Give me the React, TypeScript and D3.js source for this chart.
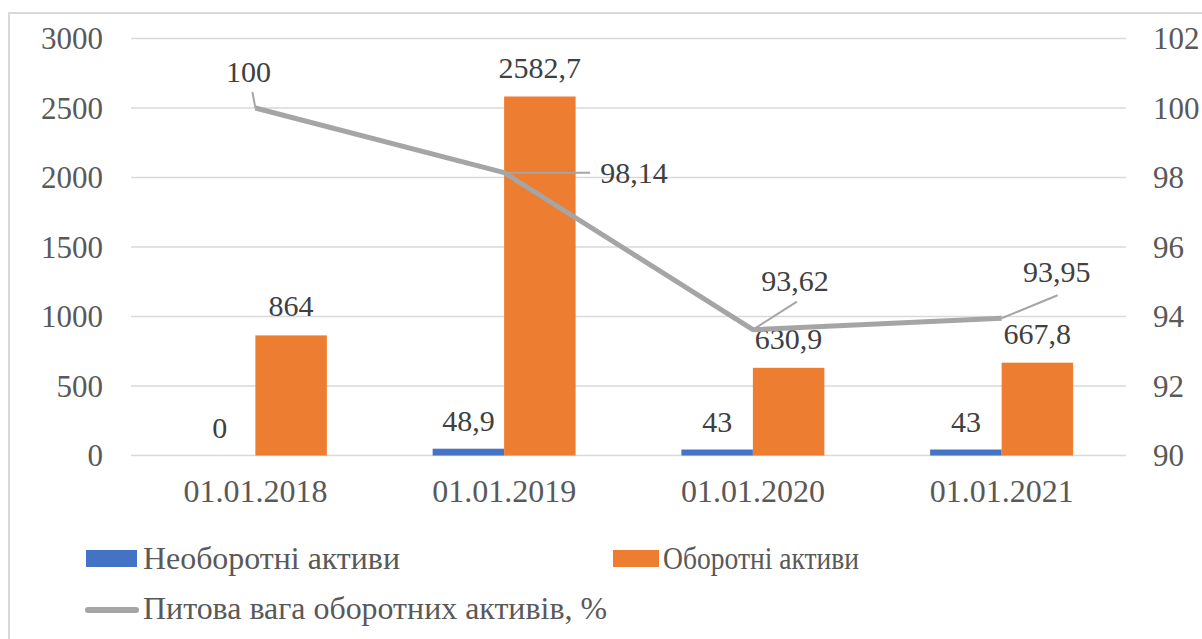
import React from "react";
import * as d3 from "d3";

const categories = ["01.01.2018", "01.01.2019", "01.01.2020", "01.01.2021"];
const nonCurrent = [0, 48.9, 43, 43];
const current = [864, 2582.7, 630.9, 667.8];
const share = [100, 98.14, 93.62, 93.95];
const leftTicks = [0, 500, 1000, 1500, 2000, 2500, 3000];
const rightTicks = [90, 92, 94, 96, 98, 100, 102];
const seriesNames = ["Необоротні активи", "Оборотні активи", "Питова вага оборотних активів, %"];

const fmt = (v: number) => String(v).replace(".", ",");

const W = 1202, H = 639;
const plotL = 131, plotR = 1126, plotT = 38.5, plotB = 455.5;
const FS = { fontFamily: '"Liberation Serif"' };
const TXT = "#595959";
const LBL = "#404040";
const BLUE = "#4472C4", ORANGE = "#ED7D31", GRAY = "#A5A5A5";

// label offsets for line data labels (leader lines)
const lineLabelPos = [
  { dx: -7, dy: -36, lx: -3, ly: -16 },
  { dx: 96, dy: 0, lx: 86, ly: 0 },
  { dx: 42, dy: -49, lx: 44, ly: -28 },
  { dx: 55, dy: -46, lx: 56, ly: -23 },
];

export default function App() {
  const x = d3.scaleBand<string>().domain(categories).range([plotL, plotR]);
  const yL = d3.scaleLinear().domain([0, 3000]).range([plotB, plotT]);
  const yR = d3.scaleLinear().domain([90, 102]).range([plotB, plotT]);
  const band = x.bandwidth();
  const barW = band / 3.48;
  const cx = (c: string) => (x(c) as number) + band / 2;
  const line = d3
    .line<number>()
    .x((_, i) => cx(categories[i]))
    .y((d) => yR(d));

  return (
    <svg width={W} height={H} style={{ position: "absolute", left: 0, top: 0, background: "#fff" }}>
      <rect x={9} y={13} width={1230} height={660} fill="none" stroke="#D9D9D9" strokeWidth={2} />
      {leftTicks.map((t) => (
        <g key={"g" + t}>
          <line x1={plotL} x2={plotR} y1={yL(t)} y2={yL(t)} stroke="#D9D9D9" strokeWidth={1.5} />
          <text style={FS} x={103} y={yL(t) + 10.5} textAnchor="end" fontSize={31} fill={TXT}>
            {t}
          </text>
        </g>
      ))}
      {rightTicks.map((t) => (
        <text style={FS} key={"r" + t} x={1153} y={yR(t) + 10.5} textAnchor="start" fontSize={31} fill={TXT}>
          {t}
        </text>
      ))}
      {categories.map((c) => (
        <text style={FS} key={"c" + c} x={cx(c)} y={502} textAnchor="middle" fontSize={32} fill={TXT}>
          {c}
        </text>
      ))}
      {categories.map((c, i) => (
        <g key={"b" + c}>
          <rect x={cx(c) - barW} y={yL(nonCurrent[i])} width={barW} height={plotB - yL(nonCurrent[i])} fill={BLUE} />
          <rect x={cx(c)} y={yL(current[i])} width={barW} height={plotB - yL(current[i])} fill={ORANGE} />
          <text style={FS} x={cx(c) - barW / 2} y={yL(nonCurrent[i]) - 18} textAnchor="middle" fontSize={30} fill={LBL}>
            {fmt(nonCurrent[i])}
          </text>
          <text style={FS} x={cx(c) + barW / 2} y={yL(current[i]) - 19} textAnchor="middle" fontSize={30} fill={LBL}>
            {fmt(current[i])}
          </text>
        </g>
      ))}
      <path d={line(share) || ""} fill="none" stroke={GRAY} strokeWidth={5} strokeLinejoin="round" />
      {share.map((v, i) => {
        const px = cx(categories[i]);
        const py = yR(v);
        const p = lineLabelPos[i];
        return (
          <g key={"l" + i}>
            <line x1={px} y1={py} x2={px + p.lx} y2={py + p.ly} stroke={GRAY} strokeWidth={2} />
            <text style={FS} x={px + p.dx} y={py + p.dy + 10} textAnchor={i === 1 ? "start" : "middle"} fontSize={30} fill={LBL}>
              {fmt(v)}
            </text>
          </g>
        );
      })}
      {/* legend */}
      <rect x={86} y={550} width={51} height={17} fill={BLUE} />
      <text style={FS} x={143} y={569} fontSize={32} fill={TXT} textLength={257} lengthAdjust="spacingAndGlyphs">
        {seriesNames[0]}
      </text>
      <rect x={613} y={550} width={46} height={17} fill={ORANGE} />
      <text style={FS} x={663} y={569} fontSize={32} fill={TXT} textLength={196} lengthAdjust="spacingAndGlyphs">
        {seriesNames[1]}
      </text>
      <line x1={88} x2={136} y1={610} y2={610} stroke={GRAY} strokeWidth={6} strokeLinecap="round" />
      <text style={FS} x={143} y={619} fontSize={32} fill={TXT} textLength={464} lengthAdjust="spacingAndGlyphs">
        {seriesNames[2]}
      </text>
    </svg>
  );
}
